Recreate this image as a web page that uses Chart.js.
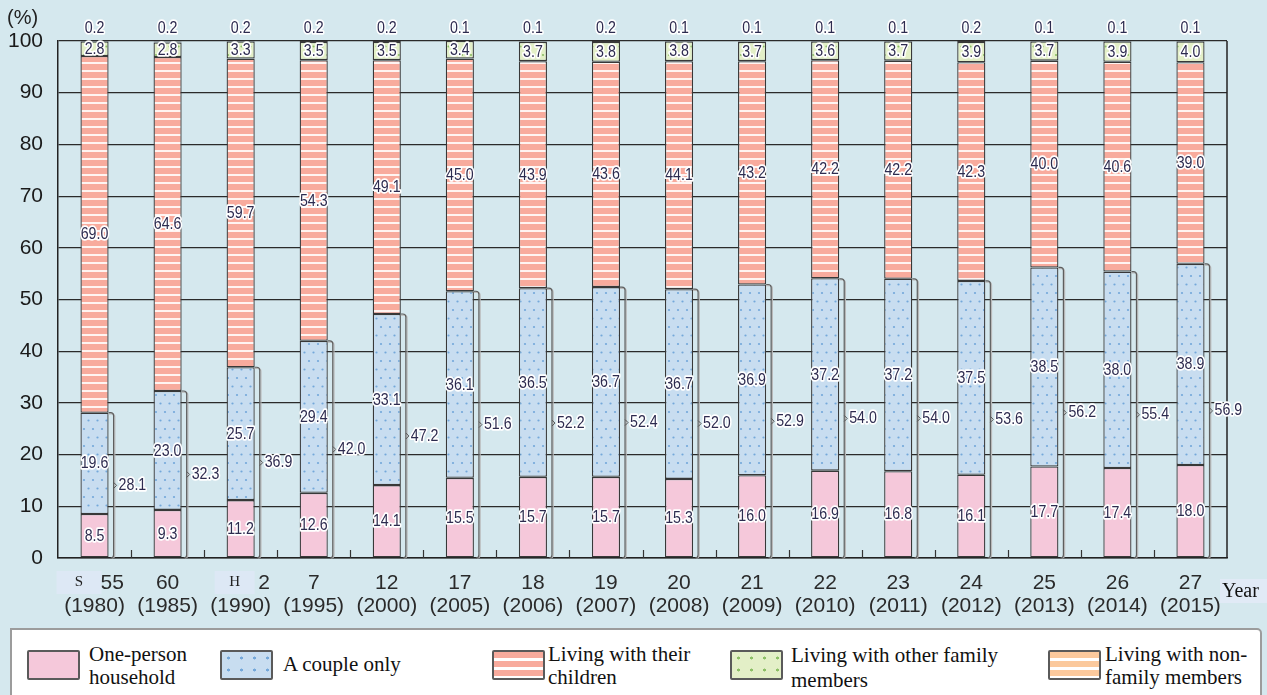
<!DOCTYPE html>
<html>
<head>
<meta charset="utf-8">
<script src="https://cdn.jsdelivr.net/npm/chart.js@4.4.1/dist/chart.umd.min.js"></script>
<style>
  html, body { margin: 0; padding: 0; background: #d5e8ee; }
  body { width: 1267px; height: 695px; overflow: hidden; position: relative; }
  #wrap { position: absolute; left: 0; top: 0; width: 1267px; height: 625px; }
  #legend {
    position: absolute; left: 10px; top: 628px; width: 1252px; height: 80px;
    background: #fff; border: 2px solid #9c9c9c; box-sizing: border-box; border-radius: 0 5px 0 0;
    font-family: "Liberation Serif", "Times New Roman", serif; color: #111;
  }
  .sw { position: absolute; top: 20px; width: 53px; height: 30px; border: 2px solid #5a5a5a; box-sizing: border-box; border-radius: 2px; }
  .lt { position: absolute; font-size: 21px; line-height: 23px; white-space: nowrap; }
  .sw.one { background: #f5c8da; }
  .sw.couple { background: radial-gradient(circle, #74a8da 1.2px, transparent 1.8px) 0 0 / 13px 12px, #c8ddf0; }
  .sw.child { background: repeating-linear-gradient(to bottom, #f8ab9d 0 6px, #fff 6px 9px); }
  .sw.other { background: radial-gradient(circle, #8cbf66 1.2px, transparent 1.8px) 0 0 / 13px 12px, #e3efc7; }
  .sw.nonfam { background: repeating-linear-gradient(to bottom, #fbc99d 0 6px, #fff 6px 9px); }
</style>
</head>
<body>
<div id="wrap"><canvas id="chart" width="1267" height="625"></canvas></div>
<div id="legend">
  <div class="sw one" style="left:15px"></div>
  <div class="lt" style="left:77px;top:13px">One-person<br>household</div>
  <div class="sw couple" style="left:208px"></div>
  <div class="lt" style="left:271px;top:23px">A couple only</div>
  <div class="sw child" style="left:480px"></div>
  <div class="lt" style="left:536px;top:13px">Living with their<br>children</div>
  <div class="sw other" style="left:718px"></div>
  <div class="lt" style="left:779px;top:13px;line-height:25px">Living with other family<br>members</div>
  <div class="sw nonfam" style="left:1036px"></div>
  <div class="lt" style="left:1093px;top:13px">Living with non-<br>family members</div>
</div>
<script>
// Survey years: Japanese era prefix, era year and Western year
const eraPrefix = ['S', '', 'H', '', '', '', '', '', '', '', '', '', '', '', '', ''];
const eraYears = ['55', '60', '2', '7', '12', '17', '18', '19', '20', '21', '22', '23', '24', '25', '26', '27'];
const westernYears = ['(1980)', '(1985)', '(1990)', '(1995)', '(2000)', '(2005)', '(2006)', '(2007)',
  '(2008)', '(2009)', '(2010)', '(2011)', '(2012)', '(2013)', '(2014)', '(2015)'];

// Household composition shares (%)
const onePerson    = [8.5, 9.3, 11.2, 12.6, 14.1, 15.5, 15.7, 15.7, 15.3, 16.0, 16.9, 16.8, 16.1, 17.7, 17.4, 18.0];
const coupleOnly   = [19.6, 23.0, 25.7, 29.4, 33.1, 36.1, 36.5, 36.7, 36.7, 36.9, 37.2, 37.2, 37.5, 38.5, 38.0, 38.9];
const withChildren = [69.0, 64.6, 59.7, 54.3, 49.1, 45.0, 43.9, 43.6, 44.1, 43.2, 42.2, 42.2, 42.3, 40.0, 40.6, 39.0];
const otherFamily  = [2.8, 2.8, 3.3, 3.5, 3.5, 3.4, 3.7, 3.8, 3.8, 3.7, 3.6, 3.7, 3.9, 3.7, 3.9, 4.0];
const nonFamily    = [0.2, 0.2, 0.2, 0.2, 0.2, 0.1, 0.1, 0.2, 0.1, 0.1, 0.1, 0.1, 0.2, 0.1, 0.1, 0.1];
// One-person + couple only, as printed
const soloOrCouple = [28.1, 32.3, 36.9, 42.0, 47.2, 51.6, 52.2, 52.4, 52.0, 52.9, 54.0, 54.0, 53.6, 56.2, 55.4, 56.9];

const yTicks = [0, 10, 20, 30, 40, 50, 60, 70, 80, 90, 100];

// Fill patterns
function stripes(base, line) {
  const c = document.createElement('canvas'); c.width = 8; c.height = 8;
  const g = c.getContext('2d');
  g.fillStyle = base; g.fillRect(0, 0, 8, 8);
  g.fillStyle = line; g.fillRect(0, 6, 8, 2);
  return g.createPattern(c, 'repeat');
}
function dots(base, dot) {
  const c = document.createElement('canvas'); c.width = 18; c.height = 17;
  const g = c.getContext('2d');
  g.fillStyle = base; g.fillRect(0, 0, 18, 17);
  g.fillStyle = dot;
  [[3, 4], [12, 4], [7.5, 12.5], [16.5, 12.5]].forEach(([px, py]) => {
    g.beginPath(); g.arc(px, py, 1.1, 0, Math.PI * 2); g.fill();
  });
  return g.createPattern(c, 'repeat');
}

const LABEL_FONT = '16.5px "Liberation Sans", Arial, sans-serif';
function haloText(ctx, txt, x, y, align) {
  ctx.save();
  ctx.translate(x, y);
  ctx.scale(0.86, 1);
  ctx.font = LABEL_FONT;
  ctx.textAlign = align || 'center';
  ctx.textBaseline = 'middle';
  ctx.lineJoin = 'round';
  ctx.lineWidth = 3.5;
  ctx.strokeStyle = '#ffffff';
  ctx.strokeText(txt, 0, 0);
  ctx.fillStyle = '#2d2b4f';
  ctx.fillText(txt, 0, 0);
  ctx.restore();
}

const decorations = {
  id: 'decorations',
  afterDatasetsDraw(chart) {
    const { ctx, chartArea: ca, scales: { x, y } } = chart;
    const n = eraYears.length;

    ctx.save();
    // plot frame, right side
    ctx.strokeStyle = '#222'; ctx.lineWidth = 1.5;
    ctx.beginPath(); ctx.moveTo(ca.right, ca.top); ctx.lineTo(ca.right, ca.bottom); ctx.stroke();
    // short category separators on the baseline
    ctx.lineWidth = 1.2; ctx.strokeStyle = '#333';
    for (let i = 1; i < n; i++) {
      const px = Math.round((x.getPixelForValue(i - 1) + x.getPixelForValue(i)) / 2) + 0.5;
      ctx.beginPath(); ctx.moveTo(px, ca.bottom); ctx.lineTo(px, ca.bottom - 8); ctx.stroke();
    }

    // braces grouping one-person + couple only
    const coupleMeta = chart.getDatasetMeta(1);
    for (let i = 0; i < n; i++) {
      const el = coupleMeta.data[i];
      const barRight = el.x + el.width / 2;
      const xv = barRight + 5;
      const yTop = y.getPixelForValue(soloOrCouple[i]);
      const yBot = ca.bottom;
      const ym = (yTop + yBot) / 2;
      ['#b8b8b8', '#5e5e5e'].forEach((col, k) => {
        const o = k === 0 ? 1.2 : 0;
        ctx.strokeStyle = col; ctx.lineWidth = 1.2;
        ctx.beginPath();
        ctx.moveTo(barRight, yTop + o);
        ctx.lineTo(xv - 3 + o, yTop + o);
        ctx.quadraticCurveTo(xv + o, yTop + o, xv + o, yTop + 3 + o);
        ctx.lineTo(xv + o, yBot - 3);
        ctx.quadraticCurveTo(xv + o, yBot, xv - 3 + o, yBot);
        ctx.stroke();
      });
      ctx.strokeStyle = '#555'; ctx.lineWidth = 1;
      ctx.beginPath(); ctx.moveTo(xv, ym - 3); ctx.lineTo(xv + 3, ym); ctx.lineTo(xv, ym + 3); ctx.stroke();
      haloText(ctx, soloOrCouple[i].toFixed(1), xv + 5, ym, 'left');
    }

    // values inside segments
    for (let d = 0; d < 4; d++) {
      const meta = chart.getDatasetMeta(d);
      const vals = chart.data.datasets[d].data;
      meta.data.forEach((el, i) => {
        haloText(ctx, vals[i].toFixed(1), el.x, (el.y + el.base) / 2 + 0.5);
      });
    }
    // non-family shares above the frame
    chart.getDatasetMeta(4).data.forEach((el, i) => {
      haloText(ctx, nonFamily[i].toFixed(1), el.x, ca.top - 13);
    });
    ctx.restore();
  },
  afterDraw(chart) {
    const { ctx, chartArea: ca, scales: { x } } = chart;
    ctx.save();
    // unit
    ctx.fillStyle = '#222';
    ctx.font = '20px "Liberation Sans", Arial, sans-serif';
    ctx.textBaseline = 'middle'; ctx.textAlign = 'left';
    ctx.fillText('(%)', 7, 18);

    // category labels
    const tickFont = '21px "Liberation Sans", Arial, sans-serif';
    eraYears.forEach((era, i) => {
      const px = x.getPixelForValue(i);
      ctx.font = tickFont; ctx.fillStyle = '#2a2a2a'; ctx.textBaseline = 'middle';
      const w = ctx.measureText(westernYears[i]).width;
      ctx.textAlign = 'center';
      ctx.fillText(westernYears[i], px, ca.bottom + 48);
      if (eraPrefix[i]) {
        ctx.textAlign = 'right';
        ctx.fillText(era, px + w / 2 - 1, ca.bottom + 25);
        // era marker box
        const bx = i === 0 ? px - 38 : px - 26;
        const bw = i === 0 ? 45 : 40;
        ctx.fillStyle = '#dde8f5';
        ctx.fillRect(bx, ca.bottom + 13, bw, 23);
        ctx.fillStyle = '#222';
        ctx.font = '15px "Liberation Serif", "Times New Roman", serif';
        ctx.textAlign = 'center';
        ctx.fillText(eraPrefix[i], bx + bw / 2, ca.bottom + 24);
      } else {
        ctx.fillText(era, px, ca.bottom + 25);
      }
    });

    // axis caption
    ctx.fillStyle = '#e1eaf6';
    ctx.fillRect(ca.right - 7, ca.bottom + 21, 47, 24);
    ctx.fillStyle = '#111';
    ctx.font = '20px "Liberation Serif", "Times New Roman", serif';
    ctx.textAlign = 'left'; ctx.textBaseline = 'middle';
    ctx.fillText('Year', ca.right - 5, ca.bottom + 34);
    ctx.restore();
  }
};

const border = { borderColor: '#383838', borderWidth: 1.3, borderSkipped: false,
                 barPercentage: 0.385, categoryPercentage: 1 };

new Chart(document.getElementById('chart'), {
  type: 'bar',
  data: {
    labels: westernYears,
    datasets: [
      { label: 'One-person household', data: onePerson, backgroundColor: '#f5c8da', ...border },
      { label: 'A couple only', data: coupleOnly, backgroundColor: dots('#c8ddf0', '#74a8da'), ...border },
      { label: 'Living with their children', data: withChildren, backgroundColor: stripes('#f8ab9d', '#fff4f1'), ...border },
      { label: 'Living with other family members', data: otherFamily, backgroundColor: dots('#e3efc7', '#8cbf66'), ...border },
      { label: 'Living with non-family members', data: nonFamily, backgroundColor: stripes('#fbc99d', '#ffffff'), ...border }
    ]
  },
  options: {
    responsive: false,
    animation: false,
    layout: { padding: { top: 41, right: 40, left: 0, bottom: 0 } },
    plugins: { legend: { display: false }, tooltip: { enabled: false } },
    scales: {
      x: {
        stacked: true,
        grid: { display: false },
        border: { display: true, color: '#222', width: 1.5 },
        ticks: { display: false },
        afterFit(s) { s.height = 67; }
      },
      y: {
        stacked: true, min: 0, max: 100,
        afterBuildTicks(s) { s.ticks = yTicks.map(v => ({ value: v })); },
        ticks: { color: '#1a1a1a', padding: 15, font: { family: '"Liberation Sans", Arial, sans-serif', size: 21 } },
        grid: { color: '#2a2a2a', lineWidth: 1.2, drawTicks: false },
        border: { color: '#222', width: 1.5 },
        afterFit(s) { s.width = 58; }
      }
    }
  },
  plugins: [decorations]
});
</script>
</body>
</html>
